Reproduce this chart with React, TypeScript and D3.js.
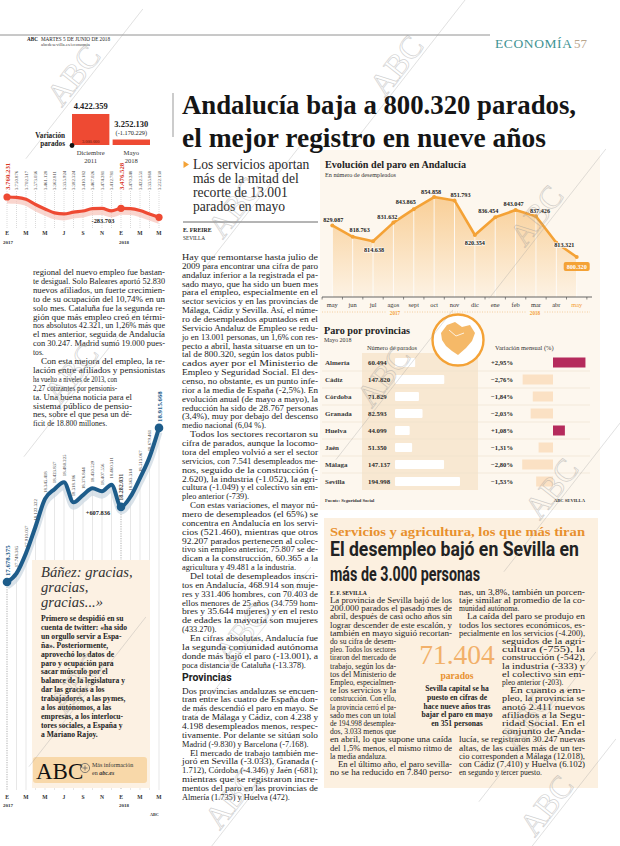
import React from 'react';
import * as d3 from 'd3';

// ---------------- DATA ----------------
const mesesEje = ['E', 'M', 'M', 'J', 'S', 'N', 'E', 'M', 'M'];
const aniosEje = ['2017', '2018'];
const paroEspana = [3760231, 3750876, 3702317, 3573036, 3461128, 3362811, 3335924, 3382324, 3410182, 3467026, 3474281, 3412781, 3476528, 3470248, 3422551, 3335868, 3252130];
const afiliados = [17678375, 17748385, 17910037, 18122322, 18345418, 18423837, 18480225, 18318186, 18376844, 18430529, 18407556, 18460311, 18282031, 18363314, 18513067, 18679461, 18915668];
const difParo = '-283.703';
const difAfiliados = '+607.836';
const barCategorias = ['Diciembre 2011', 'Mayo 2018'];
const barValores = [4422359, 3252130];
const barDiferencia = '(-1.170.229)';
const barBase = '3.000.000';
const mesesAnd = ['may', 'jun', 'jul', 'agos', 'sept', 'oct', 'nov', 'dic', 'ene', 'feb', 'mar', 'abr', 'may'];
const paroAnd = [829087, 818763, 814638, 831632, 843865, 854858, 851793, 820354, 836454, 843047, 837426, 813321, 800320];
const provincias = ['Almería', 'Cádiz', 'Córdoba', 'Granada', 'Huelva', 'Jaén', 'Málaga', 'Sevilla'];
const paradosProv = [60494, 147820, 71829, 82593, 44099, 51350, 147137, 194998];
const variacionProv = [2.95, -2.76, -1.84, -2.03, 1.08, -1.31, -2.80, -1.53];

const titular = ['Andalucía baja a 800.320 parados,', 'el mejor registro en nueve años'];
const subtitular = ['Los servicios aportan', 'más de la mitad del', 'recorte de 13.001', 'parados en mayo'];

const cuerpoA = [
  'Hay que remontarse hasta julio de',
  '2009 para encontrar una cifra de paro',
  'andaluz inferior a la registrada el pa-',
  'sado mayo, que ha sido un buen mes',
  'para el empleo, especialmente en el',
  'sector sevicios y en las provincias de',
  'Málaga, Cádiz y Sevilla. Así, el núme-',
  'ro de desempleados apuntados en el',
  'Servicio Andaluz de Empleo se redu-',
  'jo en 13.001 personas, un 1,6% con res-',
  'pecto a abril, hasta situarse en un to-',
  'tal de 800.320, según los datos publi-',
  'cados ayer por el Ministerio de',
  'Empleo y Seguridad Social. El des-',
  'censo, no obstante, es un punto infe-',
  'rior a la media de España (-2,5%). En',
  'evolución anual (de mayo a mayo), la',
  'reducción ha sido de 28.767 personas',
  '(3,4%), muy por debajo del descenso',
  'medio nacional (6,04 %).',
  '\tTodos los sectores recortaron su',
  'cifra de parados, aunque la locomo-',
  'tora del empleo volvió a ser el sector',
  'servicios, con 7.541 desempleados me-',
  'nos, seguido de la construcción (-',
  '2.620), la industria (-1.052), la agri-',
  'cultura (-1.049) y el colectivo sin em-',
  'pleo anterior (-739).',
  '\tCon estas variaciones, el mayor nú-',
  'mero de desempleados (el 65%) se',
  'concentra en Andalucía en los servi-',
  'cios (521.460), mientras que otros',
  '92.207 parados pertenecen al colec-',
  'tivo sin empleo anterior, 75.807 se de-',
  'dican a la construcción, 60.365 a la',
  'agricultura y 49.481 a la industria.',
  '\tDel total de desempleados inscri-',
  'tos en Andalucía, 468.914 son muje-',
  'res y 331.406 hombres, con 70.403 de',
  'ellos menores de 25 años (34.759 hom-',
  'bres y 35.644 mujeres) y en el resto',
  'de edades la mayoría son mujeres',
  '(433.270).',
  '\tEn cifras absolutas, Andalucía fue',
  'la segunda comunidad autónoma',
  'donde más bajó el paro (-13.001), a',
  'poca distancia de Cataluña (-13.378).',
];
const cuerpoB = [
  'Dos provincias andaluzas se encuen-',
  'tran entre las cuatro de España don-',
  'de más descendió el paro en mayo. Se',
  'trata de Málaga y Cádiz, con 4.238 y',
  '4.198 desempleados menos, respec-',
  'tivamente. Por delante se sitúan solo',
  'Madrid (-9.830) y Barcelona (-7.168).',
  '\tEl mercado de trabajo también me-',
  'joró en Sevilla (-3.033), Granada (-',
  '1.712), Córdoba (-4.346) y Jaén (-681);',
  'mientras que se registraron incre-',
  'mentos del paro en las provincias de',
  'Almería (1.735) y Huelva (472).',
];
const textoIzq = [
  'regional del nuevo empleo fue bastan-',
  'te desigual. Solo Baleares aportó 52.830',
  'nuevos afiliados, un fuerte crecimien-',
  'to de su ocupación del 10,74% en un',
  'solo mes. Cataluña fue la segunda re-',
  'gión que más empleo creó en térmi-',
  'nos absolutos 42.321, un 1,26% más que',
  'el mes anterior, seguida de Andalucía',
  'con 30.247. Madrid sumó 19.000 pues-',
  'tos.',
  '\tCon esta mejora del empleo, la re-',
  'lación entre afiliados y pensionistas',
  'ha vuelto a niveles de 2013, con',
  '2,27 cotizantes por pensionis-',
  'ta. Una buena noticia para el',
  'sistema público de pensio-',
  'nes, sobre el que pesa un dé-',
  'ficit de 18.800 millones.',
];
const banezTitulo = ['Báñez: gracias,', 'gracias,', 'gracias...»'];
const banezTexto = [
  'Primero se despidió en su',
  'cuenta de twitter: «ha sido',
  'un orgullo servir a Espa-',
  'ña». Posteriormente,',
  'aprovechó los datos de',
  'paro y ocupación para',
  'sacar músculo por el',
  'balance de la legislatura y',
  'dar las gracias a los',
  'trabajadores, a las pymes,',
  'a los autónomos, a las',
  'empresas, a los interlocu-',
  'tores sociales, a España y',
  'a Mariano Rajoy.',
];
const boxIzq = [
  'La provincia de Sevilla bajó de los',
  '200.000 parados el pasado mes de',
  'abril, después de casi ocho años sin',
  'lograr descender de este escalón, y',
  'también en mayo siguió recortan-',
  'do su cifra de desem-',
  'pleo. Todos los sectores',
  'tiraron del mercado de',
  'trabajo, según los da-',
  'tos del Ministerio de',
  'Empleo, especialmen-',
  'te los servicios y la',
  'construcción. Con ello,',
  'la provincia cerró el pa-',
  'sado mes con un total',
  'de 194.998 desemplea-',
  'dos, 3.033 menos que',
  'en abril, lo que supone una caída',
  'del 1,5% menos, el mismo ritmo de',
  'la media andaluza.',
  '\tEn el último año, el paro sevilla-',
  'no se ha reducido en 7.840 perso-',
];
const boxDer = [
  'nas, un 3,8%, también un porcen-',
  'taje similar al promedio de la co-',
  'munidad autónoma.',
  '\tLa caída del paro se produjo en',
  'todos los sectores económicos, es-',
  'pecialmente en los servicios (-4.200),',
  'seguidos de la agri-',
  'cultura (-755), la',
  'construcción (-542),',
  'la industria (-333) y',
  'el colectivo sin em-',
  'pleo anterior (-203).',
  '\tEn cuanto a em-',
  'pleo, la provincia se',
  'anotó 2.411 nuevos',
  'afiliados a la Segu-',
  'ridad Social. En el',
  'conjunto de Anda-',
  'lucía, se registraron 30.247 nuevas',
  'altas, de las cuales más de un ter-',
  'cio corresponden a Málaga (12.018),',
  'con Cádiz (7.410) y Huelva (6.102)',
  'en segundo y tercer puesto.',
];
const boxCifra = '71.404';
const boxCifraEtiqueta = 'parados';
const boxCentro = ['Sevilla capital se ha', 'puesto en cifras de', 'hace nueve años tras', 'bajar el paro en mayo', 'en 351 personas'];

// ---------------- STYLE ----------------
const SERIF = '"Liberation Serif", "DejaVu Serif", serif';
const SANS = 'Roboto, "Liberation Sans", sans-serif';
const ORANGE = '#f4a236';
const RED = '#ee4a33';
const BLUE = '#1d5c8a';

const loc = d3.formatLocale({ decimal: ',', thousands: '.', grouping: [3], currency: ['', ''] });
const fmt = loc.format(',d');
const fmtPct = loc.format('+.2f');

type ParaProps = {
  lines: string[]; y0: number; lh: number; fs: number; geom: (i: number) => [number, number];
  weight?: number; color?: string; justifyLast?: boolean; indent?: number; family?: string; ragged?: boolean;
};
function Para({ lines, y0, lh, fs, geom, weight = 400, color = '#222', justifyLast = false, indent = 8, family = SERIF, ragged = false }: ParaProps) {
  return (
    <g>
      {lines.map((l, i) => {
        const ind = l.startsWith('\t');
        const t = l.replace('\t', '');
        const isLast = (i === lines.length - 1 && !justifyLast) || (i < lines.length - 1 && lines[i + 1].startsWith('\t'));
        const [x, w] = geom(i);
        const xx = x + (ind ? indent : 0);
        const tl = ragged || isLast ? undefined : w - (ind ? indent : 0);
        return (
          <text key={i} x={xx} y={y0 + i * lh} fontSize={fs} fontFamily={family} fontWeight={weight} fill={color}
            textLength={tl} lengthAdjust={tl ? 'spacingAndGlyphs' : undefined}>{t}</text>
        );
      })}
    </g>
  );
}

function Marca({ cx, cy }: { cx: number; cy: number }) {
  return (
    <g transform={`translate(${cx},${cy}) rotate(-52)`} opacity={0.45}>
      <line x1={-95} y1={3} x2={95} y2={3} stroke="#9a9a9a" strokeWidth={0.6} />
      <text x={0} y={0} textAnchor="middle" fontFamily={SERIF} fontSize={32} fill="none" stroke="#9a9a9a" strokeWidth={0.7}>ABC</text>
    </g>
  );
}

export default function App() {
  // shared month scale for the two left charts
  const xM = d3.scaleLinear().domain([0, 16]).range([7, 159]);
  const yRed = d3.scaleLinear().domain([3.2e6, 3.8e6]).range([219.4, 195.4]);
  const yBlue = d3.scaleLinear().domain([17.6e6, 19.0e6]).range([591.8, 417.4]);
  const redLine = d3.line<number>().x((_, i) => xM(i)).y(d => yRed(d)).curve(d3.curveMonotoneX);
  const blueLine = d3.line<number>().x((_, i) => xM(i)).y(d => yBlue(d)).curve(d3.curveMonotoneX);

  // bar chart
  const xBar = d3.scaleBand().domain(barCategorias).range([72, 150]).paddingInner(0.08);
  const yBar = d3.scaleLinear().domain([3e6, 4.5e6]).range([145, 112.3]);

  // Andalucía chart
  const xA = d3.scaleLinear().domain([0, 12]).range([332.3, 576.7]);
  const yA = d3.scaleLinear().domain([760000, 860000]).range([301.4, 191.4]);
  const axisY = 297;
  const andLine = d3.line<number>().x((_, i) => xA(i)).y(d => yA(d));
  const andArea = d3.area<number>().x((_, i) => xA(i)).y0(axisY).y1(d => yA(d));
  const andLabelOff: [number, number][] = [[1, -3], [7, -5], [1, 11], [-6, -4], [-8, -5], [-3, -3], [6, -3], [0, 10], [-7, -4], [-2, -4], [4, -3], [8, 4]];

  // provinces
  const rowY = d3.scaleBand().domain(provincias).range([354, 490]);
  const wPar = d3.scaleLinear().domain([0, 195000]).range([0, 65]);
  const xVar = d3.scaleLinear().domain([-3, 3]).range([520, 586]);

  const ejeIdx = d3.range(0, 17, 2);

  return (
    <svg width={620} height={846} viewBox="0 0 620 846" style={{ position: 'absolute', left: 0, top: 0, background: '#fff' }}>
      <defs>
        <linearGradient id="gA" x1="0" y1="190" x2="0" y2="297" gradientUnits="userSpaceOnUse">
          <stop offset="0" stopColor={ORANGE} stopOpacity={0.5} />
          <stop offset="1" stopColor={ORANGE} stopOpacity={0.06} />
        </linearGradient>
      </defs>

      {/* background panels */}
      <rect x={320} y={150} width={280} height={360} fill="#fdf7ee" />
      <rect x={324} y={518} width={274} height={270} fill="#fcf0e0" />

      {/* ---------- header ---------- */}
      <line x1={0} x2={490} y1={35} y2={35} stroke="#777" strokeWidth={0.8} />
      <text x={27} y={40.5} fontSize={5.2} fontFamily={SERIF} fontWeight={700} fill="#222">ABC</text>
      <text x={41} y={40.5} fontSize={5.2} fontFamily={SERIF} fill="#222">MARTES 5 DE JUNIO DE 2018</text>
      <text x={41} y={46} fontSize={4.8} fontFamily={SERIF} fill="#444">abcdesevilla.es/economia</text>
      <text x={495} y={48} fontSize={13.5} fontFamily={SERIF} fill="#3f9393" letterSpacing={0.6}>ECONOMÍA</text>
      <text x={574} y={48} fontSize={13} fontFamily={SERIF} fill="#b9a58c">57</text>

      {/* ---------- bar chart Variación parados ---------- */}
      {barCategorias.map((c, i) => (
        <g key={c}>
          <rect x={xBar(c)} y={yBar(barValores[i])} width={xBar.bandwidth()} height={yBar(3e6) - yBar(barValores[i])} fill={RED} />
          {c.split(' ').map((p, j) => (
            <text key={j} x={(xBar(c) as number) + xBar.bandwidth() / 2} y={154.5 + j * 8} fontSize={6.6} fontFamily={SERIF} textAnchor="middle" fill="#333">{p}</text>
          ))}
        </g>
      ))}
      <text x={(xBar(barCategorias[0]) as number) + xBar.bandwidth() / 2} y={yBar(barValores[0]) - 5} fontSize={8.5} fontWeight={700} fontFamily={SERIF} textAnchor="middle" fill="#222">{fmt(barValores[0])}</text>
      <text x={(xBar(barCategorias[1]) as number) + xBar.bandwidth() / 2} y={yBar(barValores[1]) - 13} fontSize={8.5} fontWeight={700} fontFamily={SERIF} textAnchor="middle" fill="#222">{fmt(barValores[1])}</text>
      <text x={(xBar(barCategorias[1]) as number) + xBar.bandwidth() / 2} y={yBar(barValores[1]) - 5} fontSize={6.3} fontFamily={SERIF} textAnchor="middle" fill="#222">{barDiferencia}</text>
      <text x={(xBar(barCategorias[0]) as number) + xBar.bandwidth() / 2} y={142.5} fontSize={4.4} fontFamily={SERIF} textAnchor="middle" fill="#5a1a10">{barBase}</text>
      <text x={65} y={137.5} fontSize={7.2} fontWeight={700} fontFamily={SERIF} textAnchor="end" fill="#222">Variación</text>
      <text x={65} y={146} fontSize={7.2} fontWeight={700} fontFamily={SERIF} textAnchor="end" fill="#222">parados</text>
      <circle cx={72} cy={145.5} r={2.4} fill="#111" />

      {/* ---------- red line chart (paro España) ---------- */}
      {paroEspana.map((v, i) => (
        <line key={i} x1={xM(i)} x2={xM(i)} y1={191} y2={229} stroke="#b5b5b5" strokeWidth={0.5} strokeDasharray="1,1" />
      ))}
      <path d={redLine(paroEspana) || ''} transform="translate(0,3.5)" fill="none" stroke="#f7c3b9" strokeWidth={6} opacity={0.7} />
      <path d={redLine(paroEspana) || ''} fill="none" stroke={RED} strokeWidth={3.2} />
      {[0, 12, 16].map(i => <circle key={i} cx={xM(i)} cy={yRed(paroEspana[i])} r={3.6} fill={RED} />)}
      {paroEspana.map((v, i) => {
        const big = i === 0 || i === 12;
        return (
          <text key={i} transform={`translate(${xM(i) + (big ? 2.5 : 1.8)},${190}) rotate(-90)`} fontSize={big ? 6.8 : 4.8}
            fontWeight={big ? 700 : 400} fontFamily={SERIF} fill={big ? '#d8371f' : '#444'}>{fmt(v)}</text>
        );
      })}
      <text x={103} y={223} fontSize={6.4} fontWeight={700} fontFamily={SERIF} textAnchor="middle" fill="#222">{difParo}</text>
      {ejeIdx.map((m, k) => (
        <text key={k} x={xM(m)} y={235} fontSize={5.6} fontWeight={700} fontFamily={SERIF} textAnchor="middle" fill="#333">{mesesEje[k]}</text>
      ))}
      <text x={3} y={243.5} fontSize={5} fontWeight={700} fontFamily={SERIF} fill="#333">{aniosEje[0]}</text>
      <text x={119} y={243.5} fontSize={5} fontWeight={700} fontFamily={SERIF} fill="#333">{aniosEje[1]}</text>

      {/* ---------- left text column ---------- */}
      <Para lines={textoIzq} y0={275} lh={8.9} fs={7.6} geom={i => (i < 12 ? [33, 132] : i < 14 ? [33, 84] : [33, 99])} />

      {/* ---------- blue line chart (afiliados) ---------- */}
      {afiliados.map((v, i) => (
        <line key={i} x1={xM(i)} x2={xM(i)} y1={yBlue(v)} y2={790}
          stroke={i === 0 || i === 12 ? '#8a8a8a' : '#cfcfcf'} strokeWidth={i === 0 || i === 12 ? 0.7 : 0.5}
          strokeDasharray={i === 0 || i === 12 ? '1.2,1.2' : undefined} />
      ))}
      <path d={blueLine(afiliados) || ''} transform="translate(0,4)" fill="none" stroke="#c9d6e0" strokeWidth={7} opacity={0.7} />
      <path d={blueLine(afiliados) || ''} fill="none" stroke={BLUE} strokeWidth={4} />
      {[0, 12, 16].map(i => <circle key={i} cx={xM(i)} cy={yBlue(afiliados[i])} r={4.3} fill={BLUE} />)}
      {afiliados.map((v, i) => {
        const big = i === 0 || i === 16;
        const mid = i === 12;
        return (
          <text key={i} transform={`translate(${xM(i) + (big ? 2.5 : 1.8)},${yBlue(v) - 6}) rotate(-90)`}
            fontSize={big ? 6.8 : mid ? 6 : 4.8} fontWeight={big || mid ? 700 : 400} fontFamily={SERIF}
            fill={big ? BLUE : '#444'}>{fmt(v)}</text>
        );
      })}
      <text x={98} y={515} fontSize={6.4} fontWeight={700} fontFamily={SERIF} textAnchor="middle" fill="#222">{difAfiliados}</text>

      {/* Báñez box */}
      <rect x={32} y={560} width={118} height={228} fill="#fcf1e3" />
      {banezTitulo.map((t, i) => (
        <text key={i} x={41} y={577 + i * 15} fontSize={14.6} fontStyle="italic" fontFamily={SERIF} fill="#333">{t}</text>
      ))}
      <Para lines={banezTexto} y0={621} lh={8.9} fs={7.6} weight={700} ragged geom={() => [41, 105]} />
      <rect x={33} y={757} width={114} height={26} rx={3} fill="#f8d8a9" />
      <text x={36} y={779} fontSize={23} fontFamily={SERIF} fill="#111">ABC</text>
      <circle cx={85} cy={768} r={4.6} fill="none" stroke="#666" strokeWidth={0.8} />
      <path d="M82.5,768 h5 M85,765.5 v5" stroke="#666" strokeWidth={0.8} />
      <text x={92} y={767} fontSize={6} fontFamily={SERIF} fill="#333">Más información</text>
      <text x={92} y={774.5} fontSize={6} fontFamily={SERIF} fill="#333">en <tspan fontWeight={700} fontStyle="italic">abc.es</tspan></text>
      {ejeIdx.map((m, k) => (
        <text key={k} x={xM(m)} y={799} fontSize={5.6} fontWeight={700} fontFamily={SERIF} textAnchor="middle" fill="#333">{mesesEje[k]}</text>
      ))}
      <text x={3} y={807} fontSize={5} fontWeight={700} fontFamily={SERIF} fill="#333">{aniosEje[0]}</text>
      <text x={119} y={807} fontSize={5} fontWeight={700} fontFamily={SERIF} fill="#333">{aniosEje[1]}</text>
      <text x={150} y={816} fontSize={4.2} fontWeight={700} fontFamily={SERIF} fill="#333">ABC</text>

      {/* ---------- headline ---------- */}
      <line x1={173} x2={173} y1={93} y2={137} stroke="#999" strokeWidth={1} />
      {titular.map((t, i) => (
        <text key={i} x={182} y={113.5 + i * 33.5} fontSize={28} fontWeight={700} fontFamily={SERIF} fill="#151515"
          textLength={i === 0 ? 394 : 364} lengthAdjust="spacingAndGlyphs">{t}</text>
      ))}
      <path d="M183.5,161 L189,164.5 L183.5,168 Z" fill={ORANGE} />
      {subtitular.map((t, i) => (
        <text key={i} x={193} y={169 + i * 14} fontSize={13.6} fontFamily={SERIF} fill="#2a2a2a">{t}</text>
      ))}
      <line x1={183} x2={318} y1={222} y2={222} stroke="#444" strokeWidth={0.8} />
      <text x={183} y={232} fontSize={5.8} fontWeight={700} fontFamily={SERIF} fill="#222">E. FREIRE</text>
      <text x={183} y={240} fontSize={5.3} fontFamily={SERIF} fill="#222">SEVILLA</text>

      {/* middle column body */}
      <Para lines={cuerpoA} y0={260} lh={8.86} fs={8.3} geom={() => [182, 136]} />
      <text x={182} y={681} fontSize={10.5} fontWeight={700} fontFamily={SANS} fill="#222">Provincias</text>
      <Para lines={cuerpoB} y0={693.5} lh={8.86} fs={8.3} geom={() => [182, 136]} />

      {/* ---------- Evolución del paro en Andalucía ---------- */}
      <text x={325} y={168} fontSize={11} fontWeight={700} fontFamily={SERIF} fill="#222" textLength={141} lengthAdjust="spacingAndGlyphs">Evolución del paro en Andalucía</text>
      <text x={325} y={177} fontSize={6.2} fontFamily={SERIF} fill="#333">En número de desempleados</text>
      <path d={andArea(paroAnd) || ''} fill="url(#gA)" />
      {paroAnd.map((v, i) => (
        <line key={i} x1={xA(i)} x2={xA(i)} y1={yA(v)} y2={axisY} stroke="#fff" strokeWidth={0.9} opacity={0.9} />
      ))}
      <path d={andLine(paroAnd) || ''} fill="none" stroke={ORANGE} strokeWidth={2.6} strokeLinejoin="round" />
      {paroAnd.map((v, i) => <circle key={i} cx={xA(i)} cy={yA(v)} r={2} fill={ORANGE} />)}
      {paroAnd.slice(0, 12).map((v, i) => (
        <text key={i} x={xA(i) + andLabelOff[i][0]} y={yA(v) + andLabelOff[i][1]} fontSize={6.2} fontWeight={700} fontFamily={SERIF}
          textAnchor="middle" fill="#1a1a1a" stroke="#fdf7ee" strokeWidth={1.4} paintOrder="stroke">{fmt(v)}</text>
      ))}
      <rect x={xA(12) - 13} y={yA(paroAnd[12]) + 5} width={26} height={9} rx={2} fill={ORANGE} />
      <text x={xA(12)} y={yA(paroAnd[12]) + 12} fontSize={6.2} fontWeight={700} fontFamily={SERIF} textAnchor="middle" fill="#fff">{fmt(paroAnd[12])}</text>
      <line x1={322} x2={592} y1={axisY} y2={axisY} stroke="#555" strokeWidth={0.9} />
      {d3.range(14).map(i => (
        <line key={i} x1={xA(i) - 10.2} x2={xA(i) - 10.2} y1={axisY} y2={axisY + 2.5} stroke="#555" strokeWidth={0.7} />
      ))}
      {mesesAnd.map((m, i) => (
        <text key={i} x={xA(i)} y={307} fontSize={6.4} fontFamily={SERIF} textAnchor="middle" fill={i === 12 ? ORANGE : '#333'}>{m}</text>
      ))}
      <line x1={322} x2={590} y1={312} y2={312} stroke="#f3c48a" strokeWidth={0.8} strokeDasharray="1,1.5" />
      <rect x={386} y={309} width={18} height={6} fill="#fdf7ee" />
      <rect x={526} y={309} width={18} height={6} fill="#fdf7ee" />
      <text x={395} y={314.5} fontSize={5.2} fontWeight={700} fontFamily={SERIF} textAnchor="middle" fill={ORANGE}>2017</text>
      <text x={535} y={314.5} fontSize={5.2} fontWeight={700} fontFamily={SERIF} textAnchor="middle" fill={ORANGE}>2018</text>

      {/* ---------- Paro por provincias ---------- */}
      <rect x={362} y={353} width={116} height={137} fill="#f8e8d2" />
      <circle cx={458} cy={340} r={25.5} fill="#fff" stroke={ORANGE} strokeWidth={2.4} />
      <path d="M441,333 L447,325 L455,322 L462,327 L470,325 L475,333 L472,341 L466,348 L458,355 L452,351 L446,346 L442,340 Z" fill="#f5b968" />
      <path d="M449,330 L456,336 L464,333" fill="none" stroke="#fff" strokeWidth={0.8} />
      <text x={324} y={334} fontSize={11} fontWeight={700} fontFamily={SERIF} fill="#222" textLength={86} lengthAdjust="spacingAndGlyphs">Paro por provincias</text>
      <text x={324} y={342} fontSize={6} fontFamily={SERIF} fill="#333">Mayo 2018</text>
      <text x={367} y={350} fontSize={6.4} fontFamily={SERIF} fill="#333">Número de parados</text>
      <text x={495} y={350} fontSize={6.4} fontFamily={SERIF} fill="#333">Variación mensual (%)</text>
      {provincias.map((p, i) => {
        const y0 = rowY(p) as number;
        const cy = y0 + rowY.bandwidth() / 2;
        const v = variacionProv[i];
        return (
          <g key={p}>
            {i > 0 && <line x1={322} x2={590} y1={y0} y2={y0} stroke="#efe1cf" strokeWidth={0.6} />}
            <text x={325} y={cy + 2.3} fontSize={7} fontWeight={700} fontFamily={SERIF} fill="#3a3a3a">{p}</text>
            <rect x={395} y={cy - 4.5} width={wPar(paradosProv[i])} height={9} rx={1} fill="#fff" />
            <text x={368} y={cy + 2.3} fontSize={6.8} fontWeight={700} fontFamily={SERIF} fill="#2a2a2a">{fmt(paradosProv[i])}</text>
            <text x={513} y={cy + 2.3} fontSize={6.6} fontWeight={700} fontFamily={SERIF} textAnchor="end" fill="#2a2a2a">{fmtPct(v).replace('.', ',')}%</text>
            <rect x={Math.min(xVar(0), xVar(v))} y={cy - 5} width={Math.abs(xVar(v) - xVar(0))} height={10} fill={v > 0 ? '#b52b5c' : '#fbe1c4'} />
          </g>
        );
      })}
      <text x={325} y={502} fontSize={4.6} fontWeight={700} fontFamily={SERIF} fill="#333">Fuente: Seguridad Social</text>
      <text x={585} y={502} fontSize={4.6} fontWeight={700} fontFamily={SERIF} textAnchor="end" fill="#333">ABC SEVILLA</text>

      {/* ---------- Sevilla box ---------- */}
      <text x={330} y={535.5} fontSize={12} fontWeight={700} fontFamily={SERIF} fill="#e8902e" textLength={255} lengthAdjust="spacingAndGlyphs">Servicios y agricultura, los que más tiran</text>
      <text x={330} y={556} fontSize={19.5} fontWeight={700} fontFamily={SANS} fill="#222" textLength={249} lengthAdjust="spacingAndGlyphs">El desempleo bajó en Sevilla en</text>
      <text x={330} y={580.5} fontSize={19.5} fontWeight={700} fontFamily={SANS} fill="#222" textLength={150} lengthAdjust="spacingAndGlyphs">más de 3.000 personas</text>
      <text x={330} y={595} fontSize={5.6} fontWeight={700} fontFamily={SERIF} fill="#222">E. F. SEVILLA</text>
      <Para lines={boxIzq} y0={603} lh={8.2} fs={7.6} justifyLast
        geom={i => (i >= 5 && i <= 16 ? [330, 66] : [330, 122])} />
      <Para lines={boxDer} y0={603 - 8.2} lh={8.2} fs={7.6}
        geom={j => (j >= 6 && j <= 17 ? [502, 83] : [459, 126])} />
      <text x={457} y={664} fontSize={27.5} fontFamily={SERIF} textAnchor="middle" fill="#f2b06a">{boxCifra}</text>
      <text x={457} y={679} fontSize={9.6} fontWeight={700} fontFamily={SERIF} textAnchor="middle" fill="#e8902e">{boxCifraEtiqueta}</text>
      {boxCentro.map((t, i) => (
        <text key={i} x={457} y={691 + i * 8.8} fontSize={7.6} fontWeight={700} fontFamily={SERIF} textAnchor="middle" fill="#222">{t}</text>
      ))}

      {/* watermarks */}
      {[[82, 82], [243, 214], [405, 72], [545, 222], [392, 383], [560, 495], [80, 380], [85, 690], [250, 640], [535, 725], [240, 805], [555, 812]].map(([cx, cy], i) => (
        <Marca key={i} cx={cx} cy={cy} />
      ))}
    </svg>
  );
}
